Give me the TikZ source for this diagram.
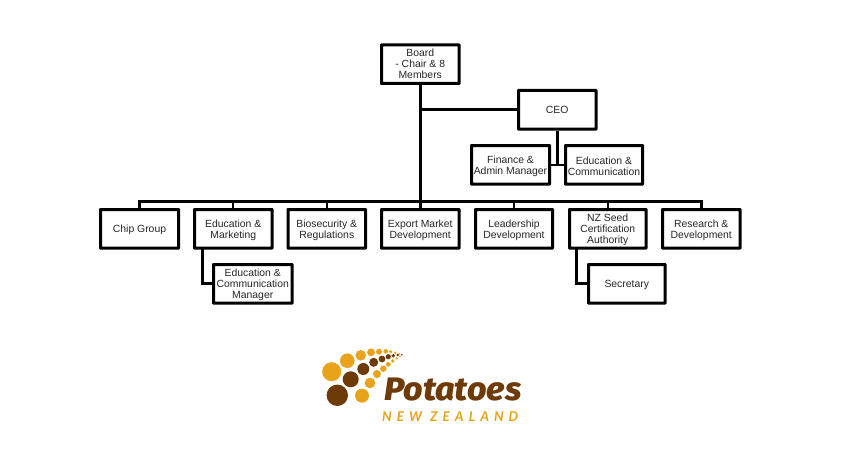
\documentclass[tikz,border=0pt]{standalone}
\usepackage{fontspec}
\setmainfont{Liberation Sans}
\newfontfamily\logofont{Fira Sans ExtraBold Italic}[Scale=1]
\newfontfamily\nzfont[LetterSpace=37]{Lato}
\definecolor{logobrown}{HTML}{6E3A08}
\definecolor{logoorange}{HTML}{E9A31B}
\tikzset{
  orgbox/.style={draw=black,line width=3pt,rectangle,inner sep=0pt,align=center,
    font=\fontsize{10.4}{11}\selectfont,text=black!85,rounded corners=0.3pt},
  link/.style={draw=black,line width=2.6pt,line cap=butt},
  trunk/.style={draw=black,line width=3.4pt},
  thinlink/.style={draw=black,line width=2pt},
  brownball/.style={fill=logobrown},
  orangeball/.style={fill=logoorange}
}
\newcommand{\boxat}[7]{\node[orgbox,minimum width=#3pt-#2pt,minimum height=#5pt-#4pt] (#1) at ({(#2+#3)/2},{(#4+#5)/2}) {\rule{0pt}{#7pt}#6};}
\begin{document}
\begin{tikzpicture}[x=1pt,y=-1pt]
\useasboundingbox[fill=white] (0,0) rectangle (844,460);
\boxat{board}{381.5}{459}{45}{83.5}{Board\\- Chair \& 8\\Members}{0}
\boxat{ceo}{518.5}{596}{90.5}{129}{CEO}{0}
\boxat{finance}{471.5}{549.5}{145.5}{184}{Finance \&\\Admin Manager}{10.2}
\boxat{educomm}{565.5}{642.5}{145.5}{184}{Education \&\\Communication}{10.2}
\boxat{chip}{100.5}{178.5}{209.5}{248}{Chip Group}{9.5}
\boxat{edumkt}{194.5}{272}{209.5}{248}{Education \&\\Marketing}{10.2}
\boxat{biosec}{288}{365.5}{209.5}{248}{Biosecurity \&\\Regulations}{10.2}
\boxat{export}{381.5}{459}{209.5}{248}{Export Market\\Development}{10.2}
\boxat{leader}{475.5}{552.5}{209.5}{248}{Leadership\\Development}{10.2}
\boxat{nzseed}{569.5}{646}{209.5}{248}{NZ Seed\\Certification\\Authority}{9.5}
\boxat{research}{662.5}{740}{209.5}{248}{Research \&\\Development}{10.2}
\boxat{ecmgr}{213.5}{292}{264.5}{303}{Education \&\\Communication\\Manager}{9.5}
\boxat{secretary}{588.5}{665}{264.5}{303}{Secretary}{9.5}
% connectors
\coordinate (bus) at (420.5,201.5);
\coordinate (edudrop) at (202.7,248);
\coordinate (nzdrop) at (576.7,248);
\draw[link] (chip.north) |- (research.north |- bus) -- (research.north);
\foreach \n in {edumkt,biosec,leader,nzseed}{\draw[thinlink] (\n.north) -- (\n.north |- bus);}
\draw[trunk] (board.south) -- (export.north);
\draw[link] (ceo.west) -- (ceo.west -| board.south);
\draw[link] (ceo.south) -- (ceo.south |- finance.east);
\draw[thinlink] (finance.east) -- (educomm.west);
\draw[link] (edudrop) |- (ecmgr.west);
\draw[link] (nzdrop) |- (secretary.west);
% logo
\foreach \x/\y/\r in {331.7/371.7/9.5,347.3/360.7/7.3,360.7/355.3/5.3,371/352.3/3.9,379/351.7/3,385.7/351.3/2.3,390.7/351.7/1.7,395.3/352.7/1.3,399.3/353.7/.9,
  362/395.7/7,370/383/5.3,377/374/4,383.3/368.7/3.2,388.3/364.3/2.4,392.7/361/1.8,396.7/358.3/1.3,400/356.3/.9}
  {\fill[orangeball] (\x,\y) circle[radius=\r];}
\foreach \x/\y/\r in {337.3/395.3/10.7,350.7/379.3/8,363.3/369/6,373.7/362.3/4.5,382/359/3.4,388.3/356.7/2.6,393.3/355.7/1.9,397.7/355/1.3,401.7/354.7/.9}
  {\fill[brownball] (\x,\y) circle[radius=\r];}
\node[anchor=base west,inner sep=0pt,text=logobrown,xscale=1.05,font=\logofont\fontsize{32.5}{32.5}\selectfont] (potatoes) at (384,400) {Potatoes};
\node[anchor=base west,inner sep=0pt,text=logoorange,font=\nzfont\bfseries\itshape\fontsize{13.5}{13.5}\selectfont] (nz) at (382,421) {NEW ZEALAND};
\end{tikzpicture}
\end{document}
